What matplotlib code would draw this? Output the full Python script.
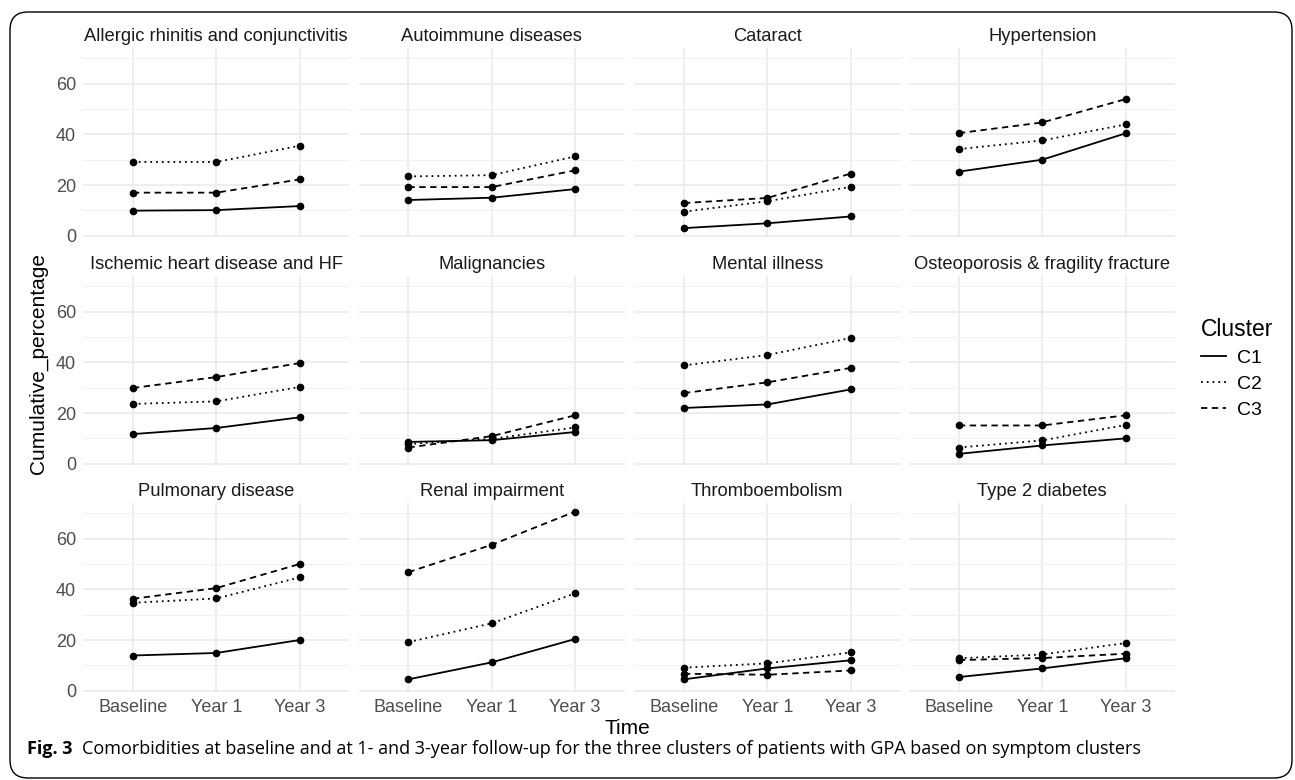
import numpy as np
import matplotlib.pyplot as plt
from matplotlib.lines import Line2D
from matplotlib.patches import FancyBboxPatch

times = ['Baseline', 'Year 1', 'Year 3']
clusters = ['C1', 'C2', 'C3']
diseases = ['Allergic rhinitis and conjunctivitis', 'Autoimmune diseases', 'Cataract', 'Hypertension',
            'Ischemic heart disease and HF', 'Malignancies', 'Mental illness', 'Osteoporosis & fragility fracture',
            'Pulmonary disease', 'Renal impairment', 'Thromboembolism', 'Type 2 diabetes']

# cumulative percentage per disease: Baseline, Year 1, Year 3
c1 = [[9.9, 10.1, 11.7], [14.1, 15.0, 18.4], [3.0, 4.9, 7.6], [25.3, 30.0, 40.4],
      [11.7, 14.1, 18.3], [8.6, 9.3, 12.5], [22.0, 23.4, 29.3], [3.9, 7.2, 10.0],
      [13.9, 14.9, 20.0], [4.5, 11.2, 20.4], [4.5, 8.8, 12.0], [5.4, 8.8, 12.8]]
c2 = [[29.1, 29.1, 35.5], [23.4, 23.9, 31.3], [9.5, 13.6, 19.3], [34.2, 37.6, 43.9],
      [23.6, 24.6, 30.3], [7.8, 9.8, 14.3], [38.8, 42.9, 49.6], [6.4, 9.2, 15.3],
      [34.7, 36.4, 44.7], [19.2, 26.6, 38.4], [9.1, 10.8, 15.1], [12.8, 14.3, 18.8]]
c3 = [[17.0, 17.0, 22.2], [19.2, 19.2, 25.8], [12.9, 14.9, 24.5], [40.5, 44.7, 53.9],
      [29.9, 34.2, 39.7], [6.4, 10.9, 19.1], [27.9, 32.1, 37.8], [15.1, 15.1, 19.1],
      [36.3, 40.5, 50.0], [46.8, 57.6, 70.7], [6.7, 6.3, 8.0], [12.1, 12.9, 14.6]]

series = {'C1': c1, 'C2': c2, 'C3': c3}
styles = {'C1': '-', 'C2': (0, (1, 2.2)), 'C3': (0, (3.5, 2.5))}

plt.rcParams['font.family'] = ['Liberation Sans', 'DejaVu Sans']

W, H = 1295, 780
fig = plt.figure(figsize=(W / 100, H / 100), dpi=100)

lefts = [83, 358.5, 634, 909]
tops = [48, 276, 503]
pw, ph = 266.5, 188.7

allv = np.array(c1 + c2 + c3)
lo, hi = allv.min(), allv.max()
pad = 0.05 * (hi - lo)

xs = np.arange(1, 4)
for i, name in enumerate(diseases):
    r, c = divmod(i, 4)
    ax = fig.add_axes([lefts[c] / W, 1 - (tops[r] + ph) / H, pw / W, ph / H])
    for k in clusters:
        ax.plot(xs, series[k][i], color='black', linestyle=styles[k], lw=1.3,
                marker='o', markersize=4.5, zorder=3)
    ax.set_xlim(0.4, 3.6)
    ax.set_ylim(lo - pad, hi + pad)
    ax.set_yticks([0, 20, 40, 60])
    ax.set_yticks([10, 30, 50, 70], minor=True)
    ax.set_xticks(xs)
    ax.grid(which='major', color='#EBEBEB', lw=1.2)
    ax.grid(which='minor', axis='y', color='#F2F2F2', lw=0.8)
    ax.set_axisbelow(True)
    for s in ax.spines.values():
        s.set_visible(False)
    ax.tick_params(which='both', length=0, labelsize=13, labelcolor='#4D4D4D', pad=5)
    if c != 0:
        ax.set_yticklabels([])
    if r == 2:
        ax.set_xticklabels(times)
    else:
        ax.set_xticklabels([])
    ax.set_title(name, fontsize=13.2, color='#1A1A1A', pad=5)

fig.text(627 / W, 1 - 729 / H, 'Time', fontsize=15, ha='center', va='center')
fig.text(38 / W, 1 - 363 / H, 'Cumulative_percentage', fontsize=15, rotation=90,
         ha='center', va='center')

handles = [Line2D([], [], color='black', linestyle=styles[k], lw=1.3) for k in clusters]
leg = fig.legend(handles, clusters, loc='upper left', bbox_to_anchor=(1183 / W, 1 - 301 / H),
                 frameon=False, title='Cluster', fontsize=14, title_fontsize=16.5,
                 handlelength=1.3, handletextpad=0.6, labelspacing=0.42, alignment='left')

# caption
t1 = fig.text(27 / W, 1 - 754 / H, 'Fig. 3', fontsize=13.0, fontweight='bold',
              family='Open Sans', va='baseline')
fig.canvas.draw()
bb = t1.get_window_extent()
fig.text((bb.x1 + 10) / W, 1 - 754 / H,
         'Comorbidities at baseline and at 1- and 3-year follow-up for the three clusters of patients '
         'with GPA based on symptom clusters', fontsize=13.0, family='Open Sans', va='baseline')

box = FancyBboxPatch((0.10, 0.02), 12.82, 7.66, boxstyle='round,pad=0,rounding_size=0.18',
                     transform=fig.dpi_scale_trans, fill=False, ec='black', lw=1.0)
fig.patches.append(box)

fig.savefig('out.png', dpi=100)
